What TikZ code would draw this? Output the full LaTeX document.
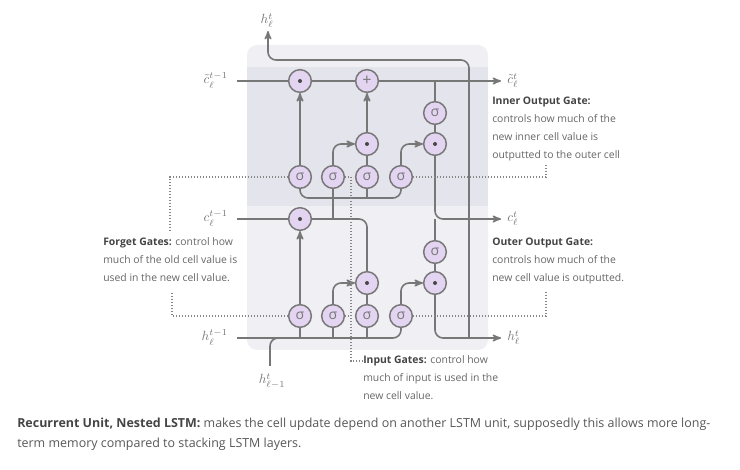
\documentclass[tikz,border=0pt]{standalone}
\usepackage[no-math]{fontspec}
\setmainfont{Open Sans}
\usetikzlibrary{arrows,positioning}
\definecolor{wirec}{HTML}{777777}
\definecolor{gatefill}{HTML}{E3D5F2}
\definecolor{boxout}{HTML}{F0F0F4}
\definecolor{boxin}{HTML}{E4E4EC}
\definecolor{txtc}{HTML}{666666}
\definecolor{boldc}{HTML}{444444}
\newcommand\sgate[2]{%
\node[gate] (#1) at (#2) {σ};
}
\newcommand\mgate[2]{%
\node[gate,path picture={\fill[wirec!60!black] (path picture bounding box.center) circle (1.5pt);}] (#1) at (#2) {};
}

\begin{document}
\begin{tikzpicture}[x=0.75pt,y=-0.75pt,
	gate/.style={circle,draw=wirec,fill=gatefill,line width=1.1pt,minimum size=17pt,inner sep=0pt,text=wirec,font=\fontsize{10.5}{12}\selectfont},
	wire/.style={draw=wirec,line width=1.2pt,rounded corners=6pt},
	flow/.style={wire,->,>=stealth'},
	hint/.style={draw=wirec!90,line width=0.9pt,dash pattern=on 0.8pt off 1.45pt},
	lbl/.style={text=wirec,inner sep=0pt,font=\fontsize{10}{12}\selectfont},
	info/.style={anchor=north west,align=left,inner sep=0pt,text=txtc,font=\fontsize{7.8}{13.5}\selectfont}]
	%% canvas and unit box
	\useasboundingbox (0,0) rectangle (740,470);
	\fill[boxout,rounded corners=7.5pt] (247,45) rectangle (488,350);
	\fill[boxin] (247,67) rectangle (488,206);

	% inner LSTM (upper band)
	\mgate{fdotI}{300,81}
	\node[gate,font=\fontsize{12}{12}\selectfont] (addI) at (367,81) {+};
	\sgate{csigI}{435,113}
	\mgate{idotI}{367,144}
	\mgate{odotI}{435,144}
	\sgate{fsigI}{300,177}
	\sgate{isigI}{333,177}
	\sgate{zsigI}{367,177}
	\sgate{osigI}{401,177}

	% outer LSTM (lower band)
	\mgate{fdotO}{300,219}
	\sgate{csigO}{435,252}
	\mgate{idotO}{367,283}
	\mgate{odotO}{435,283}
	\sgate{fsigO}{300,316}
	\sgate{isigO}{333,316}
	\sgate{zsigO}{367,316}
	\sgate{osigO}{401,316}

	% end points of the wires
	\coordinate (ctin) at (237,81);
	\coordinate (ctout) at (501,81);
	\coordinate (cin) at (237,219);
	\coordinate (cout) at (501,219);
	\coordinate (hin) at (237,338);
	\coordinate (hout) at (501,338);
	\coordinate (hup) at (268,31);
	\coordinate (hlow) at (270,366);

	% labels
	\node[lbl,anchor=base east] (ctinl) at (228,84) {$\tilde{c}_\ell^{t-1}$};
	\node[lbl,anchor=base west] (ctoutl) at (507,84) {$\tilde{c}_\ell^{t}$};
	\node[lbl,anchor=base east] (cinl) at (228,222) {$c_\ell^{t-1}$};
	\node[lbl,anchor=base west] (coutl) at (507,222) {$c_\ell^{t}$};
	\node[lbl,anchor=base east] (hinl) at (228,341) {$h_\ell^{t-1}$};
	\node[lbl,anchor=base west] (houtl) at (507,341) {$h_\ell^{t}$};
	\node[lbl,anchor=base] (hupl) at (267,24) {$h_\ell^{t}$};
	\node[lbl,anchor=base] (hlowl) at (272,384) {$h_{\ell-1}^{t}$};

	% inner cell wires
	\draw[wire] (ctin) -- (fdotI);
	\draw[wire] (fdotI) -- (addI);
	\draw[flow] (addI) -- (ctout);
	\draw[wire] (csigI) -- (csigI |- ctout);
	\draw[wire] (csigI) -- (odotI);
	\draw[flow] (fsigI) -- (fdotI);
	\draw[flow] (isigI.north) |- (idotI.west);
	\draw[wire] (zsigI) -- (idotI);
	\draw[flow] (idotI) -- (addI);
	\draw[flow] (osigI.north) |- (odotI.west);
	\draw[wire] (fsigI.south) -- (300,198) -- (401,198) -- (osigI.south);
	\draw[wire] (zsigI.south) -- (367,198);
	\draw[wire] (isigI.south) -- (isigI |- fdotO);

	% outer cell wires
	\draw[wire] (cin) -- (fdotO);
	\draw[wire] (fdotO.east) -| (idotO.north);
	\draw[flow] (odotI.south) |- (cout);
	\draw[wire] (csigO) -- (csigO |- cout);
	\draw[wire] (csigO) -- (odotO);
	\draw[flow] (fsigO) -- (fdotO);
	\draw[flow] (isigO.north) |- (idotO.west);
	\draw[wire] (zsigO) -- (idotO);
	\draw[flow] (osigO.north) |- (odotO.west);
	\draw[wire] (hin) -| (osigO.south);
	\draw[wire] (fsigO.south) -- (fsigO |- hin);
	\draw[wire] (isigO.south) -- (isigO |- hin);
	\draw[wire] (zsigO.south) -- (zsigO |- hin);
	\draw[flow] (odotO.south) |- (hout);
	\draw[flow] (469,338) -- (469,60) -| (hup);
	\draw[wire] (hlow) |- (290,338);

	% notes
	\node[info] (innertxt) at (492,97) {\textbf{\color{boldc}Inner Output Gate:}\\controls how much of the\\new inner cell value is\\outputted to the outer cell};
	\node[info] (outertxt) at (492,238) {\textbf{\color{boldc}Outer Output Gate:}\\controls how much of the\\new cell value is outputted.};
	\node[info] (forgettxt) at (103,237) {\textbf{\color{boldc}Forget Gates:} control how\\much of the old cell value is\\used in the new cell value.};
	\node[info] (inputtxt) at (363,355) {\textbf{\color{boldc}Input Gates:} control how\\much of input is used in the\\new cell value.};
	\node[anchor=north west,align=left,inner sep=0pt,text=txtc!85!black,font=\fontsize{9.35}{15}\selectfont] (capt) at (17,418) {\textbf{\color{boldc}Recurrent Unit, Nested LSTM:} makes the cell update depend on another LSTM unit, supposedly this allows more long-\\term memory compared to stacking LSTM layers.};

	% dotted pointers
	\coordinate (innerend) at (546,165);
	\coordinate (outerend) at (546,292);
	\coordinate (fgtop) at (170,232);
	\coordinate (fgbot) at (172,292);
	\coordinate (inbend) at (351,361);
	\draw[hint] (osigI.east) -| (innerend);
	\draw[hint] (osigO.east) -| (outerend);
	\draw[hint] (fsigI.west) -| (fgtop);
	\draw[hint] (fsigO.west) -| (fgbot);
	\draw[hint] (isigI.east) -| (inbend) -- (inbend -| inputtxt.west);
	\draw[hint] (isigO.east) -- (isigO.east -| inbend);
\end{tikzpicture}
\end{document}
